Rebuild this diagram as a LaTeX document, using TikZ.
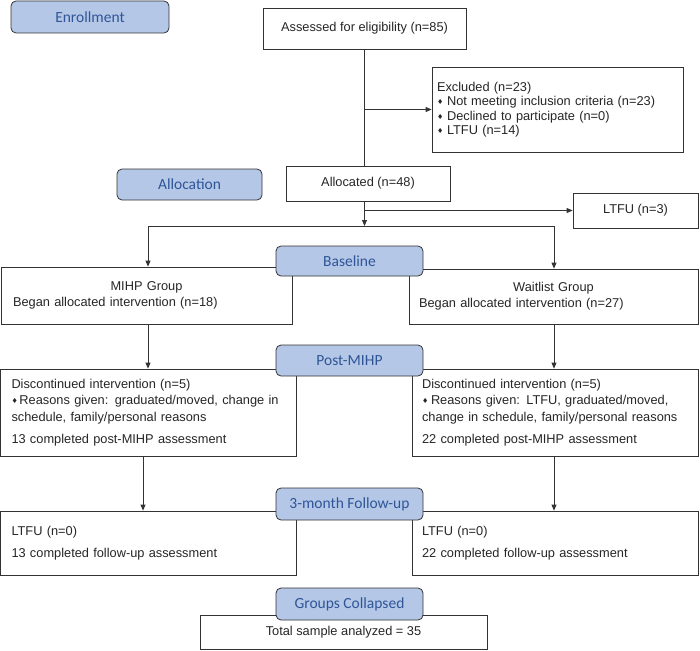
\documentclass[tikz,border=0pt]{standalone}
\usepackage{fontspec}
\setmainfont{Liberation Sans}
\newfontfamily\lblfont{Carlito}
\newfontfamily\dvfont{DejaVu Sans}
\usetikzlibrary{arrows.meta}
\definecolor{lblfill}{HTML}{B4C7E7}
\definecolor{lbltext}{HTML}{2F5597}
\definecolor{edgec}{HTML}{333333}
\newcommand\bul{{\dvfont\fontsize{7}{7}\selectfont\raisebox{1pt}{♦}}}
\begin{document}
\begin{tikzpicture}[x=1pt,y=-1pt,
  every node/.style={font=\fontsize{12.8}{16.5}\selectfont, text=black!85},
  box/.style={draw=edgec, line width=0.8pt, fill=white, inner ysep=0pt, align=left},
  cbox/.style={draw=edgec, line width=0.8pt, fill=white, inner sep=0pt, align=center},
  lbl/.style={draw=edgec, line width=0.8pt, fill=lblfill, rounded corners=5pt, inner sep=0pt,
    text=lbltext, font=\lblfont\fontsize{15.5}{18}\selectfont},
  ln/.style={draw=edgec, line width=0.8pt},
  arr/.style={ln, -{Triangle[length=6pt,width=5pt]}}]
\useasboundingbox (0,0) rectangle (700,650);

% boxes
\node[cbox, minimum width=203pt, minimum height=41pt] (assess) at (364.5,28.5) {Assessed for eligibility (n=85)};
\node[box, text width=241pt, inner xsep=5pt, minimum height=85pt,
  font=\fontsize{12.8}{14.5}\selectfont] (excl) at (557.5,109.5)
  {\mbox{Excluded (n=23)}\\
   \mbox{\makebox[10pt][l]{\bul}Not meeting inclusion criteria (n=23)}\\
   \mbox{\makebox[10pt][l]{\bul}Declined to participate (n=0)}\\
   \mbox{\makebox[10pt][l]{\bul}LTFU (n=14)}};
\node[cbox, minimum width=164pt, minimum height=35pt] (alloc) at (368,183.5) {Allocated (n=48)};
\node[cbox, minimum width=125pt, minimum height=35pt] (ltfu) at (635.5,210.5) {LTFU (n=3)};
\node[box, text width=267pt, inner xsep=12pt, minimum height=57pt,
  font=\fontsize{12.8}{16}\selectfont] (mihp) at (146.5,295.5)
  {\makebox[267pt][c]{MIHP Group}\\
   \mbox{Began allocated intervention (n=18)}};
\node[box, text width=269pt, inner xsep=10pt, minimum height=55pt,
  font=\fontsize{12.8}{16}\selectfont] (wait) at (553.5,296.5)
  {\makebox[269pt][c]{Waitlist Group}\\
   \mbox{Began allocated intervention (n=27)}};
\node[box, text width=274pt, inner xsep=11pt, minimum height=87pt] (discl) at (148.5,412.5)
  {\mbox{Discontinued intervention (n=5)}\\
   \mbox{\makebox[8pt][l]{\bul}Reasons given: graduated/moved, change in}\\
   \mbox{schedule, family/personal reasons}\\[6pt]
   \mbox{13 completed post-MIHP assessment}};
\node[box, text width=266pt, inner xsep=10pt, minimum height=87pt] (discr) at (555,412.5)
  {\mbox{Discontinued intervention (n=5)}\\
   \mbox{\makebox[9pt][l]{\bul}Reasons given: LTFU, graduated/moved,}\\
   \mbox{change in schedule, family/personal reasons}\\[6pt]
   \mbox{22 completed post-MIHP assessment}};
\node[box, text width=274pt, inner xsep=11pt, minimum height=64pt] (ful) at (148.5,543)
  {\mbox{LTFU (n=0)}\\[6pt]
   \mbox{13 completed follow-up assessment}};
\node[box, text width=266pt, inner xsep=10pt, minimum height=64pt] (fur) at (555,543)
  {\mbox{LTFU (n=0)}\\[6pt]
   \mbox{22 completed follow-up assessment}};
\node[cbox, minimum width=287pt, minimum height=34pt] (total) at (343.5,632) {Total sample analyzed = 35};

% connectors
\coordinate (sl) at (148,226);
\coordinate (sr) at (554,226);
\draw[ln] (assess.south) -- (assess.south |- alloc.north);
\draw[arr] (assess.south |- excl.west) -- (excl.west);
\draw[arr] (assess.south |- alloc.south) -- (assess.south |- sl);
\draw[arr] (assess.south |- ltfu.west) -- (ltfu.west);
\draw[ln] (sl) -- (sr);
\draw[arr] (sl) -- (sl |- mihp.north);
\draw[arr] (sr) -- (sr |- wait.north);
\draw[arr] (sl |- mihp.south) -- (sl |- discl.north);
\draw[arr] (sr |- wait.south) -- (sr |- discr.north);
\coordinate (dl) at (143,456);
\draw[arr] (dl) -- (dl |- ful.north);
\draw[arr] (sr |- discr.south) -- (sr |- fur.north);

% stage labels
\node[lbl, minimum width=158pt, minimum height=32pt] (enroll) at (90,17) {Enrollment};
\node[lbl, minimum width=145pt, minimum height=31pt] (allocl) at (189.5,184.5) {Allocation};
\node[lbl, minimum width=147pt, minimum height=30pt] (basel) at (349.5,261) {Baseline};
\node[lbl, minimum width=147pt, minimum height=31pt] (postl) at (349.5,360.5) {Post-MIHP};
\node[lbl, minimum width=147pt, minimum height=32pt] (ful3) at (349.5,504) {3-month Follow-up};
\node[lbl, minimum width=147pt, minimum height=32pt] (gcl) at (349.5,604) {Groups Collapsed};
\end{tikzpicture}
\end{document}
